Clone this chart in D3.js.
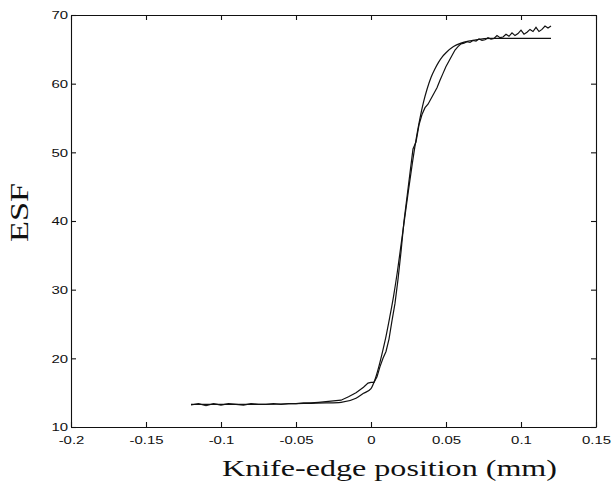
<!DOCTYPE html>
<html>
<head>
<meta charset="utf-8">
<script src="https://cdn.jsdelivr.net/npm/d3@7"></script>
<style>
  body { margin: 0; background: #fff; }
  svg { display: block; }
</style>
</head>
<body>
<div id="chart"></div>
<script>
const width = 611
const height = 485
const margin = { top: 15, right: 15, bottom: 58, left: 71 }

// tick values
const xTicks = [-0.2, -0.15, -0.1, -0.05, 0, 0.05, 0.1, 0.15]
const xTickLabels = ['-0.2', '-0.15', '-0.1', '-0.05', '0', '0.05', '0.1', '0.15']
const yTicks = [10, 20, 30, 40, 50, 60, 70]

// fitted ESF (smooth)
const fitX = [-0.12, -0.1, -0.08, -0.06, -0.05, -0.04, -0.03, -0.02, -0.01, -0.005, 0, 0.0025, 0.005, 0.0075,
  0.01, 0.0125, 0.015, 0.0175, 0.02, 0.0225, 0.025, 0.0275, 0.03, 0.0325, 0.035, 0.0375, 0.04, 0.0425,
  0.045, 0.0475, 0.05, 0.055, 0.06, 0.065, 0.07, 0.08, 0.09, 0.1, 0.12]
const fitY = [13.3, 13.3, 13.3, 13.35, 13.4, 13.45, 13.5, 13.6, 14.2, 14.9, 15.6, 16.8, 18.6, 20.8,
  23.2, 26.0, 29.0, 32.5, 36.5, 40.5, 44.5, 48.3, 51.8, 54.8, 57.3, 59.3, 60.9, 62.1,
  63.1, 63.9, 64.5, 65.4, 65.9, 66.2, 66.4, 66.6, 66.6, 66.6, 66.6]

// measured ESF (noisy)
const measX = [-0.12, -0.115, -0.11, -0.105, -0.1, -0.095, -0.09, -0.085, -0.08, -0.075, -0.07, -0.065,
  -0.06, -0.055, -0.05, -0.045, -0.04, -0.035, -0.03, -0.025, -0.02, -0.015, -0.01, -0.005, -0.002, 0,
  0.002, 0.004, 0.006, 0.008, 0.01, 0.012, 0.014, 0.016, 0.018, 0.02, 0.022, 0.024, 0.026, 0.028, 0.03,
  0.032, 0.034, 0.036, 0.038, 0.04, 0.042, 0.044, 0.046, 0.048, 0.05, 0.052, 0.054, 0.056, 0.058, 0.06,
  0.062, 0.064, 0.066, 0.068, 0.07, 0.072, 0.074, 0.076, 0.078, 0.08, 0.082, 0.084, 0.086, 0.088, 0.09,
  0.092, 0.094, 0.096, 0.098, 0.1, 0.102, 0.104, 0.106, 0.108, 0.11, 0.112, 0.114, 0.116, 0.118, 0.12]
const measY = [13.2, 13.4, 13.1, 13.4, 13.2, 13.4, 13.3, 13.2, 13.4, 13.3, 13.3, 13.4,
  13.3, 13.4, 13.4, 13.5, 13.5, 13.6, 13.7, 13.8, 13.9, 14.4, 15.0, 15.8, 16.4, 16.5,
  16.5, 17.3, 18.8, 20.0, 21.0, 22.8, 25.5, 28.0, 31.5, 35.5, 40.0, 43.5, 47.0, 50.5, 51.5,
  54.0, 55.5, 56.5, 57.0, 57.8, 58.6, 59.4, 60.5, 61.5, 62.5, 63.3, 64.1, 64.9, 65.4, 65.8,
  65.9, 66.1, 66.0, 66.3, 66.2, 66.5, 66.3, 66.4, 66.7, 66.5, 66.6, 67.0, 66.7, 66.8, 67.2,
  66.9, 67.4, 67.0, 67.3, 67.8, 67.2, 67.5, 67.9, 67.6, 68.2, 67.6, 67.9, 68.4, 68.1, 68.4]

const fit = fitX.map((x, i) => [x, fitY[i]])
const meas = measX.map((x, i) => [x, measY[i]])

const x = d3.scaleLinear().domain([-0.2, 0.15]).range([margin.left, width - margin.right])
const y = d3.scaleLinear().domain([10, 70]).range([height - margin.bottom, margin.top])

const svg = d3.select('#chart').append('svg').attr('width', width).attr('height', height)

const stretch = 1.3
const tickFont = g =>
  g.selectAll('text')
    .attr('font-family', '"Liberation Sans", Arial, sans-serif')
    .attr('font-size', 11.5)
    .attr('fill', '#111')

// bottom axis
svg.append('g')
  .attr('transform', `translate(0,${height - margin.bottom})`)
  .call(d3.axisBottom(x).tickValues(xTicks).tickFormat((d, i) => xTickLabels[i])
    .tickSizeInner(-5).tickSizeOuter(0).tickPadding(9))
  .call(tickFont)
  .call(g => g.selectAll('text').attr('transform', `scale(${stretch},1)`))

// top axis (ticks only)
svg.append('g')
  .attr('transform', `translate(0,${margin.top})`)
  .call(d3.axisTop(x).tickValues(xTicks).tickFormat(() => '').tickSizeInner(-5).tickSizeOuter(0))

// left axis
svg.append('g')
  .attr('transform', `translate(${margin.left},0)`)
  .call(d3.axisLeft(y).tickValues(yTicks).tickSizeInner(-5).tickSizeOuter(0).tickPadding(3))
  .call(tickFont)
  .call(g => g.selectAll('text').attr('x', -3 / stretch).attr('transform', `scale(${stretch},1)`))

// right axis (ticks only)
svg.append('g')
  .attr('transform', `translate(${width - margin.right},0)`)
  .call(d3.axisRight(y).tickValues(yTicks).tickFormat(() => '').tickSizeInner(-5).tickSizeOuter(0))

svg.selectAll('.domain, .tick line').attr('stroke', '#111').attr('stroke-width', 1.1)

const line = d3.line().x(d => x(d[0])).y(d => y(d[1]))

svg.append('path').datum(fit)
  .attr('fill', 'none').attr('stroke', '#111').attr('stroke-width', 1.2)
  .attr('d', line.curve(d3.curveMonotoneX))

svg.append('path').datum(meas)
  .attr('fill', 'none').attr('stroke', '#111').attr('stroke-width', 1.2)
  .attr('d', line.curve(d3.curveLinear))

// axis titles
svg.append('text')
  .attr('x', 222).attr('y', 476)
  .attr('font-family', '"Liberation Serif", "Times New Roman", serif')
  .attr('font-size', 24)
  .attr('textLength', 335).attr('lengthAdjust', 'spacingAndGlyphs')
  .attr('fill', '#111')
  .text('Knife-edge position (mm)')

svg.append('text')
  .attr('transform', 'translate(28,242) rotate(-90)')
  .attr('font-family', '"Liberation Serif", "Times New Roman", serif')
  .attr('font-size', 26)
  .attr('textLength', 59).attr('lengthAdjust', 'spacingAndGlyphs')
  .attr('fill', '#111')
  .text('ESF')
</script>
</body>
</html>
